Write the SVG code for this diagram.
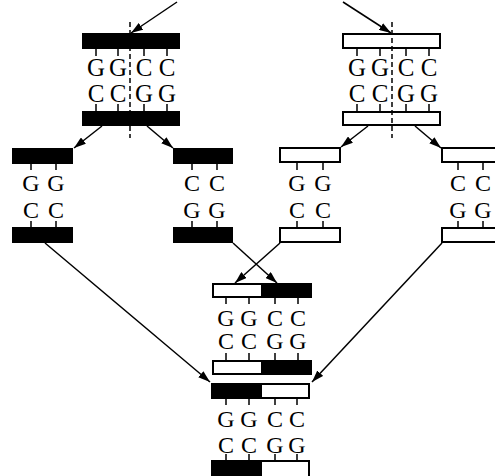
<svg xmlns="http://www.w3.org/2000/svg" width="495" height="476" viewBox="0 0 495 476">
<defs>
<marker id="ah" viewBox="0 0 12 8" refX="12" refY="4" markerWidth="12" markerHeight="8" markerUnits="userSpaceOnUse" orient="auto">
<path d="M0,0 L12,4 L0,8 Z" fill="#000"/>
</marker>
<style>
.blk{fill:#000}
.wht{fill:#fff;stroke:#000;stroke-width:2}
.tk{stroke:#000;stroke-width:1.5}
.dash{stroke:#000;stroke-width:1.5;stroke-dasharray:5 3}
.ln{stroke:#000;stroke-width:1.5;fill:none;marker-end:url(#ah)}
text{font-family:"Liberation Serif","Times New Roman",serif;font-size:24px;fill:#000;text-anchor:middle}
.big{font-size:25px}
</style>
</defs>
<rect width="495" height="476" fill="#fff"/>

<g id="connectors">
<line class="ln" x1="177" y1="2" x2="131" y2="33"/>
<line class="ln" x1="343" y1="2" x2="391" y2="33"/>
<line class="ln" x1="102" y1="126" x2="74" y2="148"/>
<line class="ln" x1="147" y1="126" x2="173" y2="148"/>
<line class="ln" x1="368" y1="126" x2="341" y2="147"/>
<line class="ln" x1="415" y1="126" x2="441" y2="148"/>
<line class="ln" x1="45" y1="243" x2="210" y2="382"/>
<line class="ln" x1="233" y1="243" x2="277" y2="283"/>
<line class="ln" x1="280" y1="243" x2="235" y2="283"/>
<line class="ln" x1="442" y1="243" x2="312" y2="382"/>
</g>

<g id="parent-black">
<rect class="blk" x="82" y="33" width="98" height="16"/>
<path class="tk" d="M96,49V56M118,49V56M144,49V56M167,49V56M96,104V111M118,104V111M144,104V111M167,104V111"/>
<text class="big" x="96" y="76">G</text><text class="big" x="118" y="76">G</text><text class="big" x="144" y="76">C</text><text class="big" x="167" y="76">C</text>
<text class="big" x="96" y="102">C</text><text class="big" x="118" y="102">C</text><text class="big" x="144" y="102">G</text><text class="big" x="167" y="102">G</text>
<rect class="blk" x="82" y="111" width="98" height="15"/>
<line class="dash" x1="130" y1="22" x2="130" y2="138"/>
</g>

<g id="parent-white">
<rect class="wht" x="343" y="34" width="97" height="14"/>
<path class="tk" d="M357,49V56M380,49V56M406,49V56M429,49V56M357,104V111M380,104V111M406,104V111M429,104V111"/>
<text class="big" x="357" y="76">G</text><text class="big" x="380" y="76">G</text><text class="big" x="406" y="76">C</text><text class="big" x="429" y="76">C</text>
<text class="big" x="357" y="102">C</text><text class="big" x="380" y="102">C</text><text class="big" x="406" y="102">G</text><text class="big" x="429" y="102">G</text>
<rect class="wht" x="343" y="112" width="97" height="13"/>
<line class="dash" x1="392" y1="22" x2="392" y2="138"/>
</g>

<g id="frag-black-gc">
<rect class="blk" x="12" y="148" width="61" height="16"/>
<path class="tk" d="M31,164V170M56,164V170M31,221V227M56,221V227"/>
<text x="31" y="191">G</text><text x="56" y="191">G</text>
<text x="31" y="218">C</text><text x="56" y="218">C</text>
<rect class="blk" x="12" y="227" width="61" height="16"/>
</g>

<g id="frag-black-cg">
<rect class="blk" x="173" y="148" width="60" height="16"/>
<path class="tk" d="M192,164V170M217,164V170M192,221V227M217,221V227"/>
<text x="192" y="191">C</text><text x="217" y="191">C</text>
<text x="192" y="218">G</text><text x="217" y="218">G</text>
<rect class="blk" x="173" y="227" width="60" height="16"/>
</g>

<g id="frag-white-gc">
<rect class="wht" x="280" y="148" width="60" height="14"/>
<path class="tk" d="M297,163V170M323,163V170M297,221V228M323,221V228"/>
<text x="297" y="191">G</text><text x="323" y="191">G</text>
<text x="297" y="218">C</text><text x="323" y="218">C</text>
<rect class="wht" x="280" y="228" width="60" height="14"/>
</g>

<g id="frag-white-cg">
<rect class="wht" x="442" y="148" width="60" height="14"/>
<path class="tk" d="M458,163V170M483,163V170M458,221V228M483,221V228"/>
<text x="458" y="191">C</text><text x="483" y="191">C</text>
<text x="458" y="218">G</text><text x="483" y="218">G</text>
<rect class="wht" x="442" y="228" width="60" height="14"/>
</g>

<g id="recombinant-1">
<rect class="wht" x="213" y="284" width="98" height="13"/>
<rect class="blk" x="261" y="283" width="51" height="15"/>
<path class="tk" d="M226,298V304M249,298V304M275,298V304M298,298V304M226,353V360M249,353V360M275,353V360M298,353V360"/>
<text x="226" y="326">G</text><text x="249" y="326">G</text><text x="275" y="326">C</text><text x="298" y="326">C</text>
<text x="226" y="349">C</text><text x="249" y="349">C</text><text x="275" y="349">G</text><text x="298" y="349">G</text>
<rect class="wht" x="213" y="361" width="98" height="13"/>
<rect class="blk" x="261" y="360" width="51" height="15"/>
</g>

<g id="recombinant-2">
<rect class="wht" x="212" y="384" width="97" height="14"/>
<rect class="blk" x="211" y="383" width="51" height="16"/>
<path class="tk" d="M226,399V405M249,399V405M275,399V405M297,399V405M226,454V460M249,454V460M275,454V460M297,454V460"/>
<text x="226" y="427">G</text><text x="249" y="427">G</text><text x="275" y="427">C</text><text x="297" y="427">C</text>
<text x="226" y="453">C</text><text x="249" y="453">C</text><text x="275" y="453">G</text><text x="297" y="453">G</text>
<rect class="wht" x="212" y="461" width="97" height="16"/>
<rect class="blk" x="211" y="460" width="51" height="16"/>
</g>
</svg>
